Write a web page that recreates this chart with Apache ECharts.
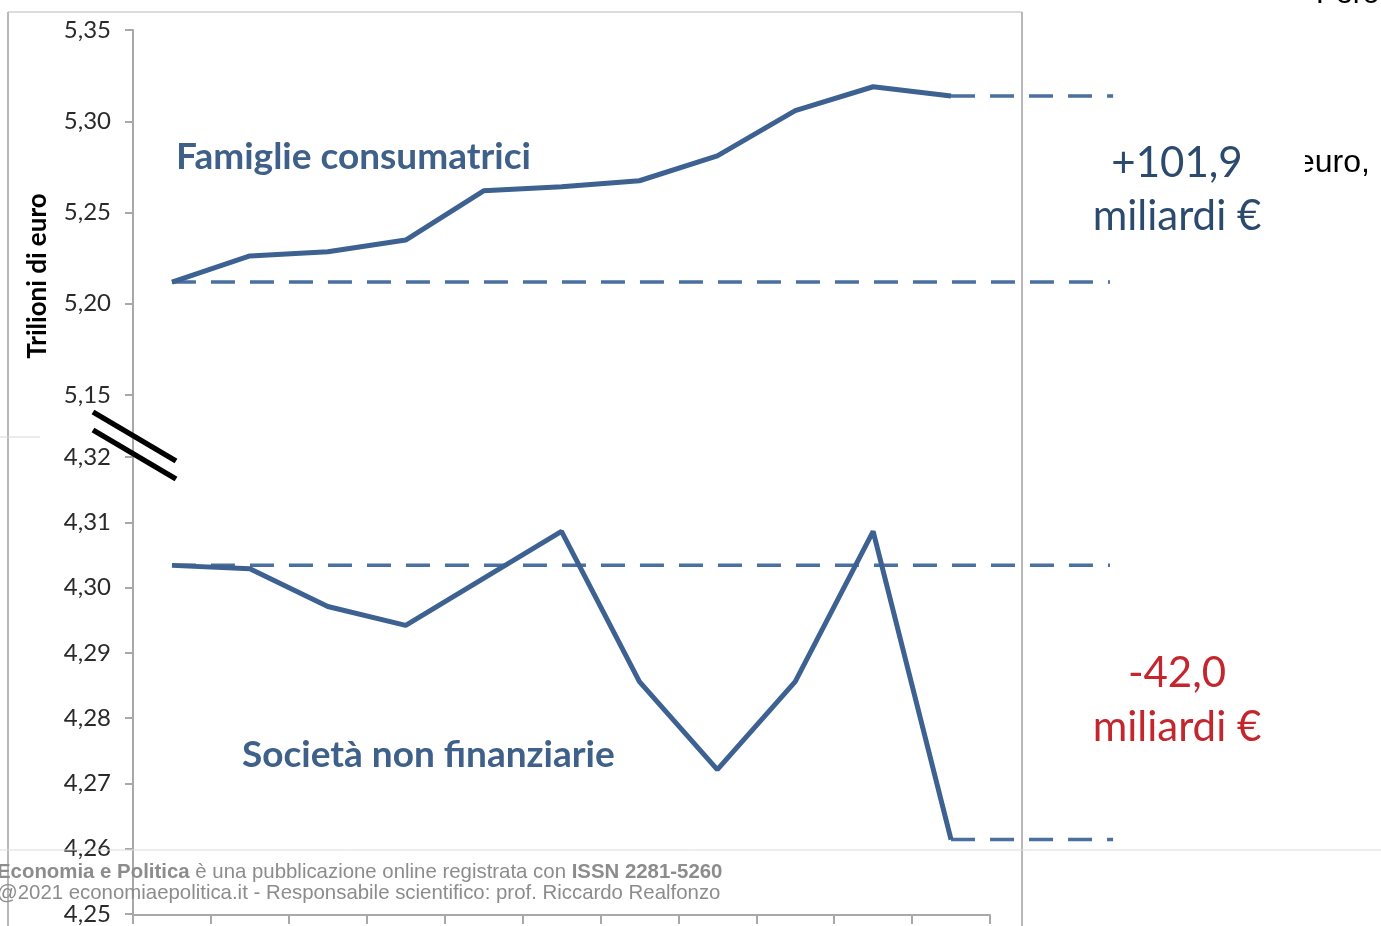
<!DOCTYPE html>
<html>
<head>
<meta charset="utf-8">
<script src="https://cdn.jsdelivr.net/npm/echarts@6/dist/echarts.min.js"></script>
<style>
  html, body { margin: 0; padding: 0; background: #fff; }
  #chart { width: 1381px; height: 926px; }
</style>
</head>
<body>
<div id="chart"></div>
<script>
// quarter positions on the x axis (11 periods, centred in each slot)
const positions = [0.5, 1.5, 2.5, 3.5, 4.5, 5.5, 6.5, 7.5, 8.5, 9.5, 10.5];
// trilioni di euro
const famiglie = [5.2119, 5.2262, 5.2285, 5.2349, 5.2619, 5.2641, 5.2674, 5.2810, 5.3058, 5.3189, 5.3138];
const societa = [4.3034, 4.3029, 4.2971, 4.2942, 4.3014, 4.3086, 4.2856, 4.2721, 4.2856, 4.3086, 4.2614];
// where the dashed reference lines stop (beyond the last period)
const refEndLong = 12.54;
const refEndShort = 12.58;
const topTicks = { min: 5.15, max: 5.35, interval: 0.05 };
const bottomTicks = { min: 4.25, max: 4.32, interval: 0.01 };
const periodCount = 11;

const lineColor = '#3d6191';
const dashColor = '#4a70a0';
const axisGray = '#a8a8a8';

const chart = echarts.init(document.getElementById('chart'));

function comma(v) {
    return v.toFixed(2).replace('.', ',');
}

function yAxisCfg(gridIndex, t) {
    return {
        type: 'value',
        gridIndex: gridIndex,
        min: t.min,
        max: t.max,
        interval: t.interval,
        axisLine: { show: true, lineStyle: { color: axisGray, width: 2 } },
        axisTick: { show: true, length: 8, lineStyle: { color: axisGray, width: 2 } },
        splitLine: { show: false },
        axisLabel: {
            formatter: comma,
            color: '#2a2a2a',
            fontSize: 24,
            fontFamily: 'Lato',
            margin: 22
        }
    };
}

function pairs(values) {
    return values.map(function (v, i) { return [positions[i], v]; });
}

function dashed(idx, from, to, value) {
    return {
        type: 'line',
        xAxisIndex: idx,
        yAxisIndex: idx,
        data: [[from, value], [to, value]],
        symbol: 'none',
        silent: true,
        lineStyle: { color: dashColor, width: 3.5, type: [24, 15] },
        z: 1
    };
}

function solid(idx, values) {
    return {
        type: 'line',
        xAxisIndex: idx,
        yAxisIndex: idx,
        data: pairs(values),
        symbol: 'none',
        lineStyle: { color: lineColor, width: 5 },
        z: 3
    };
}

const slot = 857 / periodCount;
const plotMax = 12.6;

chart.setOption({
    animation: false,
    backgroundColor: '#fff',
    grid: [
        { left: 133, top: 30, width: slot * plotMax, height: 365 },
        { left: 133, top: 457, width: slot * plotMax, height: 458 },
        // the visible category axis only spans the 11 periods
        { left: 133, top: 457, width: 857, height: 458 }
    ],
    xAxis: [
        { type: 'value', gridIndex: 0, min: 0, max: plotMax, show: false },
        { type: 'value', gridIndex: 1, min: 0, max: plotMax, show: false },
        {
            type: 'value', gridIndex: 2, min: 0, max: periodCount, interval: 1,
            axisLine: { show: true, lineStyle: { color: axisGray, width: 2 } },
            axisTick: { show: true, length: 9, lineStyle: { color: axisGray, width: 2 } },
            axisLabel: { show: false },
            splitLine: { show: false }
        }
    ],
    yAxis: [
        yAxisCfg(0, topTicks),
        yAxisCfg(1, bottomTicks),
        { type: 'value', gridIndex: 2, min: 0, max: 1, show: false }
    ],
    series: [
        dashed(0, positions[0], refEndLong, famiglie[0]),
        dashed(0, positions[10], refEndShort, famiglie[10]),
        solid(0, famiglie),
        dashed(1, positions[0], refEndLong, societa[0]),
        dashed(1, positions[10], refEndShort, societa[10]),
        solid(1, societa)
    ],
    graphic: [
        // frame of the pasted picture
        { type: 'line', shape: { x1: 8, y1: 12, x2: 1022, y2: 12 }, style: { stroke: '#d0d0d0', lineWidth: 1.5 } },
        { type: 'line', shape: { x1: 8, y1: 12, x2: 8, y2: 926 }, style: { stroke: '#b8b8b8', lineWidth: 2 } },
        { type: 'line', shape: { x1: 1022, y1: 12, x2: 1022, y2: 926 }, style: { stroke: '#b8b8b8', lineWidth: 2 }, z: 5 },
        { type: 'line', shape: { x1: 0, y1: 437, x2: 40, y2: 437 }, style: { stroke: '#d8d8d8', lineWidth: 1 } },
        // y axis continues through the break
        { type: 'line', shape: { x1: 133, y1: 395, x2: 133, y2: 457 }, style: { stroke: axisGray, lineWidth: 2 } },
        // break marks
        { type: 'line', shape: { x1: 93, y1: 412, x2: 176, y2: 461 }, style: { stroke: '#000', lineWidth: 5.5 }, z: 10 },
        { type: 'line', shape: { x1: 93, y1: 430, x2: 176, y2: 479 }, style: { stroke: '#000', lineWidth: 5.5 }, z: 10 },
        // axis title
        {
            type: 'text', x: 38, y: 276, rotation: Math.PI / 2,
            style: { text: 'Trilioni di euro', fill: '#000', font: 'bold 26px Lato', align: 'center', verticalAlign: 'middle' }
        },
        // series labels
        {
            type: 'text', x: 176, y: 157,
            style: { text: 'Famiglie consumatrici', fill: '#3e6089', font: 'bold 37px Lato', verticalAlign: 'middle' }
        },
        {
            type: 'text', x: 242, y: 755,
            style: { text: 'Società non finanziarie', fill: '#3e6089', font: 'bold 37px Lato', verticalAlign: 'middle' }
        },
        // variations
        { type: 'text', x: 1177, y: 163, style: { text: '+101,9', fill: '#2b4a6e', font: '42px Lato', align: 'center', verticalAlign: 'middle' } },
        { type: 'text', x: 1177, y: 216, style: { text: 'miliardi €', fill: '#2b4a6e', font: '42px Lato', align: 'center', verticalAlign: 'middle' } },
        { type: 'text', x: 1177, y: 673, style: { text: '-42,0', fill: '#c4262e', font: '42px Lato', align: 'center', verticalAlign: 'middle' } },
        { type: 'text', x: 1177, y: 727, style: { text: 'miliardi €', fill: '#c4262e', font: '42px Lato', align: 'center', verticalAlign: 'middle' } },
        // page text behind the picture
        { type: 'text', x: 1316, y: -5, style: { text: 'Pero', fill: '#000', font: '30px "Liberation Sans"', verticalAlign: 'middle' } },
        { type: 'text', x: 1297, y: 163, style: { text: 'euro,', fill: '#000', font: '32px "Liberation Sans"', verticalAlign: 'middle' } },
        { type: 'rect', shape: { x: 1268, y: 140, width: 37, height: 45 }, style: { fill: '#fff' }, z: 20 },
        // page footer
        { type: 'line', shape: { x1: 0, y1: 850, x2: 1381, y2: 850 }, style: { stroke: '#dcdcdc', lineWidth: 1 }, z: 30 },
        {
            type: 'text', x: -3, y: 872, z: 30,
            style: {
                text: '{b|Economia e Politica} è una pubblicazione online registrata con {b|ISSN 2281-5260}',
                fill: '#8c8c8c', font: '20.4px "Liberation Sans"', verticalAlign: 'middle',
                rich: { b: { fontWeight: 'bold', fontSize: 20.4, fontFamily: 'Liberation Sans', fill: '#8c8c8c' } }
            }
        },
        {
            type: 'text', x: -3, y: 893, z: 30,
            style: { text: '@2021 economiaepolitica.it - Responsabile scientifico: prof. Riccardo Realfonzo', fill: '#8c8c8c', font: '20.4px "Liberation Sans"', verticalAlign: 'middle' }
        }
    ]
});
</script>
</body>
</html>
